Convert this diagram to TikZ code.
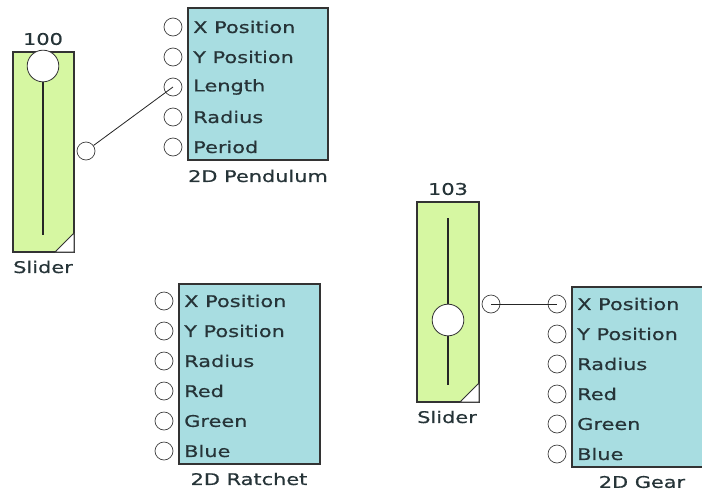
\documentclass[tikz,border=0pt]{standalone}
\usepackage{fontspec}
\setmainfont[FakeStretch=1.3, FakeBold=0.6]{DejaVu Sans}
\usepackage{xcolor}
\definecolor{slidercol}{RGB}{214,247,162}
\definecolor{blockcol}{RGB}{168,221,225}
\definecolor{txtcol}{RGB}{38,52,56}

\begin{document}
\begin{tikzpicture}[
    x=0.03cm, y=-0.03cm,
    every node/.style={font=\fontsize{13.7}{16}\selectfont, text=txtcol},
    port/.style={circle, draw=black!75, fill=white, line width=0.6pt, minimum size=0.54cm, inner sep=0pt},
    knob/.style={circle, draw=black!80, fill=white, line width=0.7pt, minimum size=0.95cm, inner sep=0pt},
    lbl/.style={anchor=west, inner sep=0pt},
    blk/.style={draw=black!80, fill=blockcol, line width=1pt},
    sld/.style={draw=black!80, fill=slidercol, line width=1pt},
    wire/.style={draw=black!85, line width=0.7pt},
  ]
    \useasboundingbox (0,0) rectangle (702,494);
    \clip (0,0) rectangle (702,494);

    % 滑块 1
    \draw[sld] (13,52) rectangle (74,252);
    \filldraw[fill=white, draw=black!80, line width=0.7pt] (55,252) -- (74,233) -- (74,252) -- cycle;
    \draw[line width=1.1pt, black!85] (43,67) -- (43,235);
    \node[knob] (k1) at (43,66) {};
    \node (v1) at (43,39) {100};
    \node (s1) at (43,267) {Slider};
    \node[port] (o1) at (86,151) {};

    % 2D Pendulum
    \draw[blk] (188,8) rectangle (328,160);
    \foreach \t [count=\i] in {X Position, Y Position, Length, Radius, Period} {
      \node[port] (pd\i) at (173, {27+30*(\i-1)}) {};
      \node[lbl] (pdl\i) at (193, {27+30*(\i-1)}) {\t};
    }
    \node (pdn) at (258,176) {2D Pendulum};

    % 2D Ratchet
    \draw[blk] (179,284) rectangle (320,464);
    \foreach \t [count=\i] in {X Position, Y Position, Radius, Red, Green, Blue} {
      \node[port] (rt\i) at (164, {301+30*(\i-1)}) {};
      \node[lbl] (rtl\i) at (184, {301+30*(\i-1)}) {\t};
    }
    \node (rtn) at (249,479) {2D Ratchet};

    % 滑块 2
    \draw[sld] (417,202) rectangle (479,402);
    \filldraw[fill=white, draw=black!80, line width=0.7pt] (460,402) -- (479,383) -- (479,402) -- cycle;
    \draw[line width=1.1pt, black!85] (448,218) -- (448,385);
    \node[knob] (k2) at (448,320) {};
    \node (v2) at (448,189) {103};
    \node (s2) at (447,417) {Slider};
    \node[port] (o2) at (491,304) {};

    % 2D Gear
    \draw[blk] (572,287) rectangle (712,467);
    \foreach \t [count=\i] in {X Position, Y Position, Radius, Red, Green, Blue} {
      \node[port] (gr\i) at (557, {304+30*(\i-1)}) {};
      \node[lbl] (grl\i) at (577, {304+30*(\i-1)}) {\t};
    }
    \node (grn) at (642,482) {2D Gear};

    % 连线
    \draw[wire] (o1) -- (pd3.center);
    \draw[wire] (o2.center) -- (gr1.center);
  \end{tikzpicture}
\end{document}
